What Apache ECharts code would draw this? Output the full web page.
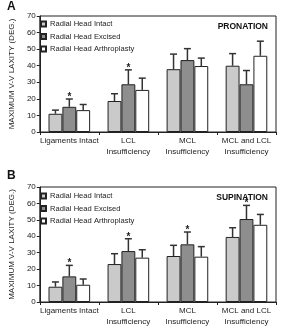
<!DOCTYPE html>
<html>
<head>
<meta charset="utf-8">
<script src="https://cdn.jsdelivr.net/npm/echarts@6/dist/echarts.min.js"></script>
<style>
html,body{margin:0;padding:0;background:#fff;}
#c{width:281px;height:334px;}
</style>
</head>
<body>
<div id="c"></div>
<script>
const categories = ['Ligaments Intact', 'LCL\nInsufficiency', 'MCL\nInsufficiency', 'MCL and LCL\nInsufficiency'];
const seriesNames = ['Radial Head Intact', 'Radial Head Excised', 'Radial Head Arthroplasty'];
const yTicks = [0, 10, 20, 30, 40, 50, 60, 70];

// Panel A: pronation (means and upper error = SD)
const pronIntact = [11, 18.7, 37.9, 40];
const pronIntactErr = [2.2, 4.4, 9.1, 7.3];
const pronExcised = [15.2, 28.8, 43.4, 28.8];
const pronExcisedErr = [4.7, 8.7, 6.9, 8.3];
const pronArthro = [13.2, 25.4, 39.8, 46];
const pronArthroErr = [3.4, 7.1, 4.8, 8.8];
const pronStar = [true, true, false, false];

// Panel B: supination
const supIntact = [9.3, 23.1, 28, 39.6];
const supIntactErr = [2.9, 6.3, 6.5, 5.6];
const supExcised = [15.6, 31, 35.1, 50.5];
const supExcisedErr = [6.7, 7.5, 7.5, 8.3];
const supArthro = [10.5, 27, 27.6, 47];
const supArthroErr = [3.5, 4.8, 6.1, 6.3];
const supStar = [true, true, true, true];

const colors = ['#cacaca', '#8e8e8e', '#ffffff'];
const FONT = 'Liberation Sans, Arial, sans-serif';
const BARW = 0.235; // fraction of category band

const chart = echarts.init(document.getElementById('c'), null, {renderer: 'canvas'});

function errSeries(gi, idx, means, errs, stars) {
  const data = means.map((m, i) => [i, m, m + errs[i], stars ? (stars[i] ? 1 : 0) : 0]);
  return {
    type: 'custom',
    xAxisIndex: gi, yAxisIndex: gi,
    z: 5,
    silent: true,
    data: data,
    renderItem: function (params, api) {
      const band = api.size([1, 0])[0];
      const off = (idx - 1) * band * BARW;
      const p0 = api.coord([api.value(0), api.value(1)]);
      const p1 = api.coord([api.value(0), api.value(2)]);
      const x = p0[0] + off;
      const children = [
        {type: 'line', shape: {x1: x, y1: p0[1], x2: x, y2: p1[1]}, style: {stroke: '#333', lineWidth: 1.5}},
        {type: 'line', shape: {x1: x - 3.5, y1: p1[1], x2: x + 3.5, y2: p1[1]}, style: {stroke: '#333', lineWidth: 1.5}}
      ];
      if (api.value(3) === 1) {
        children.push({type: 'text', x: x, y: p1[1] - 7, style: {text: '*', fill: '#222', font: 'bold 10px ' + FONT, textAlign: 'center', textVerticalAlign: 'top'}});
      }
      return {type: 'group', children: children};
    }
  };
}

function barSeries(gi, idx, vals) {
  return {
    type: 'bar', name: seriesNames[idx],
    xAxisIndex: gi, yAxisIndex: gi,
    data: vals,
    barWidth: (BARW * 100) + '%',
    barGap: '0%',
    itemStyle: {color: colors[idx], borderColor: '#222', borderWidth: 1},
    emphasis: {disabled: true},
    z: 3
  };
}

const grids = [
  {left: 30, top: 16, width: 246, height: 116},
  {left: 30, top: 187, width: 246, height: 115}
];

function xAxis(gi) {
  return {
    type: 'category', gridIndex: gi, data: categories,
    axisLine: {lineStyle: {color: '#222', width: 1}},
    axisTick: {show: true, length: 3, lineStyle: {color: '#222'}},
    axisLabel: {color: '#222', fontSize: 8, fontFamily: FONT, margin: 4, lineHeight: 10.5, interval: 0}
  };
}
function yAxis(gi) {
  return {
    type: 'value', gridIndex: gi, min: yTicks[0], max: yTicks[yTicks.length - 1], interval: 10,
    name: 'MAXIMUM V-V LAXITY (DEG.)', nameLocation: 'middle', nameRotate: 90, nameGap: 19,
    nameTextStyle: {color: '#222', fontSize: 8, fontFamily: FONT},
    splitLine: {show: false},
    axisLine: {show: true, lineStyle: {color: '#222', width: 1}},
    axisTick: {show: true, length: 3, lineStyle: {color: '#222'}},
    axisLabel: {color: '#222', fontSize: 8, fontFamily: FONT, margin: 4}
  };
}

const legendBase = {data: seriesNames, orient: 'vertical', left: 35, itemWidth: 5, itemHeight: 5, itemGap: 4.5, icon: 'rect',
  textStyle: {fontSize: 7.6, color: '#222', fontFamily: FONT, padding: [0, 0, 0, -1]}, selectedMode: false};

const option = {
  animation: false,
  backgroundColor: '#fff',
  grid: grids.map(g => Object.assign({show: true, borderColor: '#222', borderWidth: 1, backgroundColor: 'transparent'}, g)),
  xAxis: [xAxis(0), xAxis(1)],
  yAxis: [yAxis(0), yAxis(1)],
  legend: [
    Object.assign({top: 15}, legendBase),
    Object.assign({top: 187}, legendBase)
  ],
  title: [
    {text: 'A', left: 2, top: -4, textStyle: {fontSize: 12, fontWeight: 'bold', color: '#111', fontFamily: FONT}},
    {text: 'B', left: 2, top: 165, textStyle: {fontSize: 12, fontWeight: 'bold', color: '#111', fontFamily: FONT}},
    {text: 'PRONATION', right: 8, top: 17, textStyle: {fontSize: 8.5, fontWeight: 'bold', color: '#111', fontFamily: FONT}},
    {text: 'SUPINATION', right: 8, top: 188, textStyle: {fontSize: 8.5, fontWeight: 'bold', color: '#111', fontFamily: FONT}}
  ],
  series: [
    barSeries(0, 0, pronIntact), barSeries(0, 1, pronExcised), barSeries(0, 2, pronArthro),
    errSeries(0, 0, pronIntact, pronIntactErr, null),
    errSeries(0, 1, pronExcised, pronExcisedErr, pronStar),
    errSeries(0, 2, pronArthro, pronArthroErr, null),
    barSeries(1, 0, supIntact), barSeries(1, 1, supExcised), barSeries(1, 2, supArthro),
    errSeries(1, 0, supIntact, supIntactErr, null),
    errSeries(1, 1, supExcised, supExcisedErr, supStar),
    errSeries(1, 2, supArthro, supArthroErr, null)
  ]
};
chart.setOption(option);
</script>
</body>
</html>
